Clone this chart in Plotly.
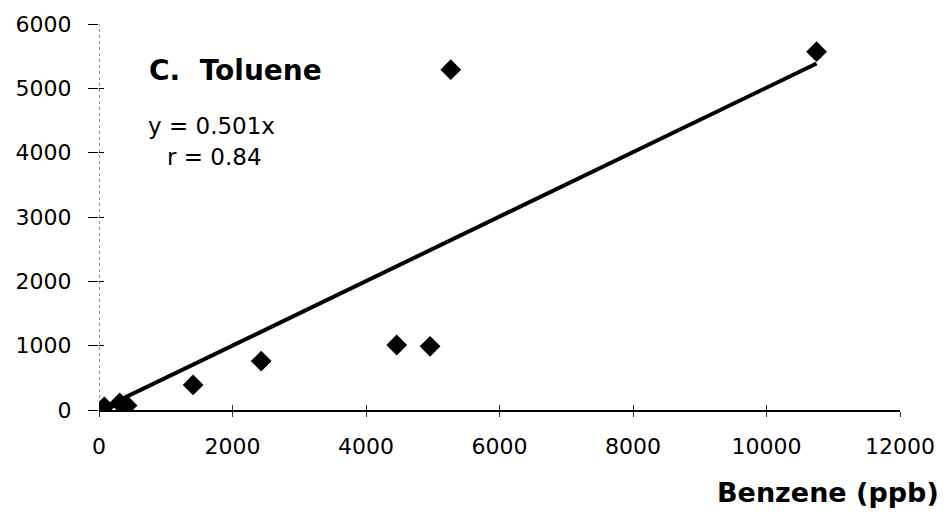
import plotly.graph_objects as go

# Benzene vs toluene concentrations (ppb)
benzene = [80, 310, 420, 1410, 2430, 4460, 4960, 5270, 10750]
toluene = [50, 110, 70, 390, 760, 1010, 990, 5290, 5570]

slope = 0.501
r_value = 0.84
x_ticks = [0, 2000, 4000, 6000, 8000, 10000, 12000]
y_ticks = [0, 1000, 2000, 3000, 4000, 5000, 6000]

FONT = "DejaVu Sans, Arial, sans-serif"

fit_x = [0, max(benzene)]
fit_y = [slope * v for v in fit_x]

fig = go.Figure()
fig.add_trace(go.Scatter(
    x=fit_x, y=fit_y, mode="lines",
    line=dict(color="black", width=4),
    showlegend=False, hoverinfo="skip",
))
fig.add_trace(go.Scatter(
    x=benzene, y=toluene, mode="markers",
    marker=dict(symbol="diamond", size=16, color="black"),
    showlegend=False,
))
# empty trace on the overlay axes so the inner tick marks render
fig.add_trace(go.Scatter(
    x=[None], y=[None], xaxis="x2", yaxis="y2", showlegend=False,
))

fig.update_layout(
    width=949, height=516,
    margin=dict(l=99, r=49, t=24, b=106),
    paper_bgcolor="white", plot_bgcolor="white",
    font=dict(family=FONT, color="black", size=22),
    xaxis=dict(
        range=[0, 12000], tickvals=x_ticks, ticktext=[str(v) for v in x_ticks],
        showgrid=False, zeroline=False,
        showline=True, linecolor="black", linewidth=2,
        ticks="outside", ticklen=5, tickcolor="#333", tickwidth=1,
        tickfont=dict(size=22), ticklabelstandoff=11,
    ),
    yaxis=dict(
        range=[0, 6000], tickvals=y_ticks, ticktext=[str(v) for v in y_ticks],
        showgrid=False, zeroline=False, showline=False,
        ticks="outside", ticklen=10, tickcolor="black", tickwidth=1,
        tickfont=dict(size=22), ticklabelstandoff=12,
    ),
    xaxis2=dict(
        range=[0, 12000], tickvals=x_ticks, overlaying="x", side="bottom",
        showgrid=False, zeroline=False, showline=False, showticklabels=False,
        ticks="inside", ticklen=5, tickcolor="#333", tickwidth=1,
    ),
    yaxis2=dict(
        range=[0, 6000], tickvals=y_ticks, overlaying="y", side="left",
        showgrid=False, zeroline=False, showticklabels=False, showline=False,
        ticks="inside", ticklen=5, tickcolor="black", tickwidth=1,
    ),
    shapes=[
        # dotted vertical axis line
        dict(type="line", xref="x", yref="y", x0=0, x1=0, y0=0, y1=6000,
             line=dict(color="#333", width=1, dash="dot")),
    ],
)

# text placed by pixel position within the 949x516 page
plot_l, plot_t = 99, 24
plot_w, plot_h = 949 - 99 - 49, 516 - 24 - 106


def px_to_paper(px, py):
    return (px - plot_l) / plot_w, 1 - (py - plot_t) / plot_h


labels = [
    ("<b>C.  Toluene</b>", 28, 147, 70, "left"),
    (f"y = {slope}x", 23, 146, 126, "left"),
    (f"r = {r_value}", 23, 165, 157, "left"),
    ("<b>Benzene (ppb)</b>", 27, 941, 492, "right"),
]
anns = []
for text, size, px, py, anchor in labels:
    xp, yp = px_to_paper(px, py)
    anns.append(dict(
        text=text, font=dict(size=size), showarrow=False,
        xref="paper", yref="paper", x=xp, y=yp,
        xanchor=anchor, yanchor="middle",
    ))
fig.update_layout(annotations=anns)

fig.write_html("out.html")
